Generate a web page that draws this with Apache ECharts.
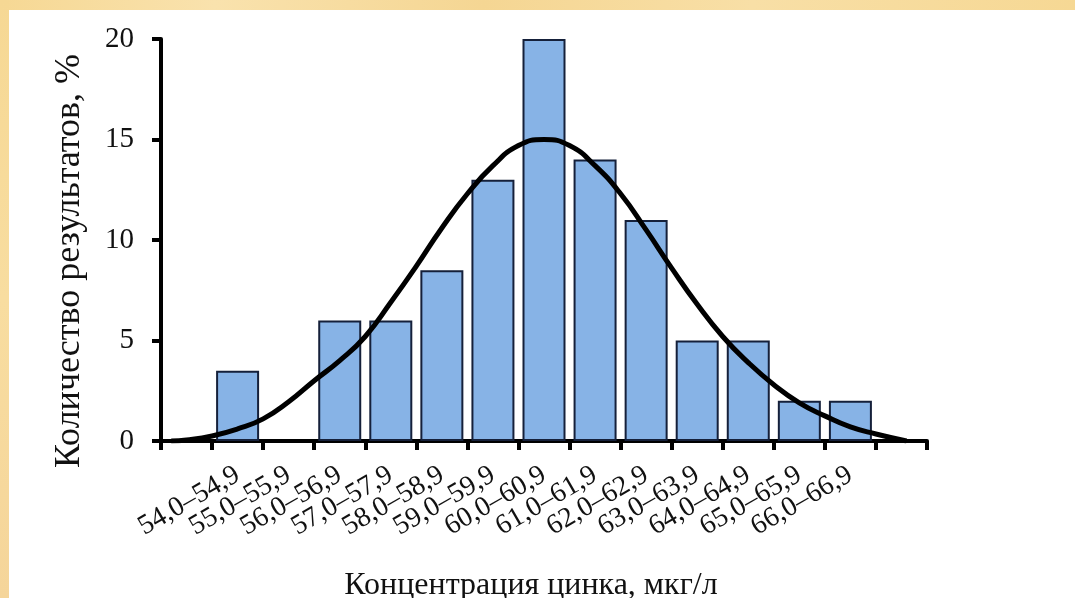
<!DOCTYPE html>
<html>
<head>
<meta charset="utf-8">
<script src="https://cdn.jsdelivr.net/npm/echarts@6/dist/echarts.min.js"></script>
<style>
  html, body { margin: 0; padding: 0; background: #ffffff; }
  #bandTop { position: absolute; left: 0; top: 0; width: 1075px; height: 10px;
    background: linear-gradient(90deg, #f6d894 0%, #f9e2ad 20%, #f5d693 45%, #f8dfa6 70%, #f6d894 100%); }
  #bandLeft { position: absolute; left: 0; top: 0; width: 9px; height: 598px;
    background: linear-gradient(180deg, #f6d894 0%, #f8dda0 50%, #f5d59a 100%); }
  #chart { position: absolute; left: 0; top: 0; width: 1075px; height: 598px; }
</style>
</head>
<body>
<div id="bandTop"></div>
<div id="bandLeft"></div>
<div id="chart"></div>
<script>
// Categories (bins); first and last bins are empty and unlabeled
const categories = ['', '54,0–54,9', '55,0–55,9', '56,0–56,9', '57,0–57,9', '58,0–58,9',
  '59,0–59,9', '60,0–60,9', '61,0–61,9', '62,0–62,9', '63,0–63,9', '64,0–64,9',
  '65,0–65,9', '66,0–66,9', ''];
// Share of results, % (bars)
const barValues = [null, 3.5, null, 6, 6, 8.5, 13, 20, 14, 11, 5, 5, 2, 2, null];
// Fitted normal curve: position in bin widths from the y axis, and %
const curveX = [0.2, 0.5, 1.0, 1.5, 2.0, 2.5, 3.0, 3.5, 4.0, 4.5, 5.0, 5.5, 6.0, 6.5, 7.0, 7.5,
  8.0, 8.5, 9.0, 9.5, 10.0, 10.5, 11.0, 11.5, 12.0, 12.5, 13.0, 13.5, 14.0, 14.6];
const curveY = [0.0, 0.05, 0.25, 0.6, 1.1, 1.95, 3.0, 4.0, 5.2, 6.9, 8.7, 10.6, 12.3, 13.7, 14.7, 15,
  14.7, 13.7, 12.3, 10.5, 8.6, 6.8, 5.2, 3.9, 2.8, 1.9, 1.25, 0.7, 0.35, 0.0];
// Y tick values
const yTicks = [0, 5, 10, 15, 20];

const serif = "'Liberation Serif', 'DejaVu Serif', serif";
const chart = echarts.init(document.getElementById('chart'), null, { renderer: 'canvas' });
chart.setOption({
  backgroundColor: 'transparent',
  animation: false,
  grid: { left: 161, right: 148, top: 39, bottom: 157, containLabel: false, outerBoundsMode: 'none' },
  xAxis: [
    {
      type: 'category',
      data: categories,
      boundaryGap: true,
      name: 'Концентрация цинка, мкг/л',
      nameLocation: 'middle',
      nameGap: 129,
      nameTextStyle: { fontFamily: serif, fontSize: 32, color: '#111', padding: [0, 26, 0, 0] },
      axisLine: { lineStyle: { color: '#000', width: 4 } },
      axisTick: { show: true, length: 9, lineStyle: { color: '#000', width: 4 }, interval: 0 },
      axisLabel: { interval: 0, rotate: 30, margin: 32, fontFamily: serif, fontSize: 28, color: '#111' },
      splitLine: { show: false }
    },
    {
      type: 'value',
      min: 0,
      max: categories.length,
      show: false
    }
  ],
  yAxis: {
    type: 'value',
    min: yTicks[0],
    max: yTicks[yTicks.length - 1],
    interval: 5,
    name: 'Количество результатов, %',
    nameLocation: 'middle',
    nameGap: 73,
    nameTextStyle: { fontFamily: serif, fontSize: 36, color: '#111', padding: [0, 42, 0, 0] },
    axisLine: { show: true, lineStyle: { color: '#000', width: 4 } },
    axisTick: { show: true, length: 9, lineStyle: { color: '#000', width: 4 } },
    axisLabel: { margin: 27, fontFamily: serif, fontSize: 29, color: '#111' },
    splitLine: { show: false }
  },
  series: [
    {
      type: 'bar',
      xAxisIndex: 0,
      data: barValues,
      barWidth: 43,
      itemStyle: { color: '#87b3e6', borderColor: '#15203a', borderWidth: 2 },
      z: 2
    },
    {
      type: 'line',
      xAxisIndex: 1,
      data: curveX.map((x, i) => [x, curveY[i]]),
      smooth: true,
      symbol: 'none',
      lineStyle: { color: '#000', width: 5 },
      z: 3
    }
  ]
});
</script>
</body>
</html>
